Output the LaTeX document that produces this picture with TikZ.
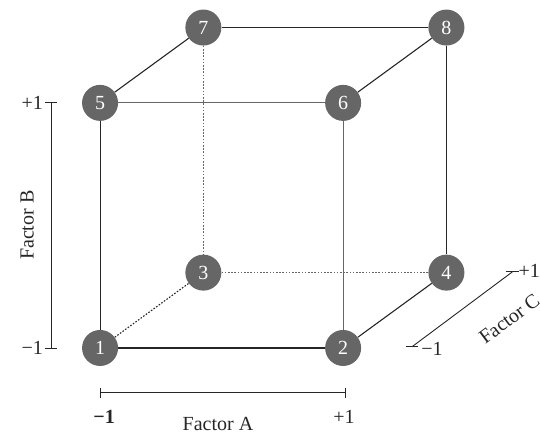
\documentclass[tikz,border=0pt]{standalone}
\usepackage{fontspec}
\setmainfont{Liberation Serif}
\usepackage{tikz}
\usetikzlibrary{arrows.meta,positioning,calc}

\definecolor{dotgray}{HTML}{666666}
\tikzset{
  corner/.style={circle, fill=dotgray, text=white, minimum size=36pt, inner sep=0pt,
    font=\fontsize{20}{22}\selectfont},
  edge/.style={line width=1.1pt, black!85},
  frontedge/.style={line width=1.1pt, dotgray},
  hidden/.style={line width=1.1pt, dotgray, dash pattern=on 1.6pt off 1.6pt},
  axis/.style={line width=0.9pt, black!85},
  axislabel/.style={font=\fontsize{20}{22}\selectfont, text=black!85, inner sep=1pt}
}

\begin{document}
\begin{tikzpicture}[x=40.5pt, y=40.5pt]
  % Bounding box
  \useasboundingbox (-2.47, -2.12) rectangle (10.86, 8.59);

  % Cube corners (front face, then back face)
  \node[corner] (c1) at (0, 0) {1};
  \node[corner] (c2) at (6, 0) {2};
  \node[corner] (c5) at (0, 6.05) {5};
  \node[corner] (c6) at (6, 6.05) {6};
  \node[corner] (c3) at (2.55, 1.86) {3};
  \node[corner] (c4) at (8.55, 1.86) {4};
  \node[corner] (c7) at (2.55, 7.91) {7};
  \node[corner] (c8) at (8.55, 7.91) {8};

  % Visible edges
  \draw[edge] (c1) -- (c2);
  \draw[edge] (c1) -- (c5);
  \draw[edge] (c5) -- (c7);
  \draw[edge] (c7) -- (c8);
  \draw[edge] (c8) -- (c6);
  \draw[edge] (c8) -- (c4);
  \draw[edge] (c4) -- (c2);
  \draw[frontedge] (c5) -- (c6);
  \draw[frontedge] (c6) -- (c2);

  % Hidden edges
  \draw[hidden] (c7) -- (c3);
  \draw[hidden] (c3) -- (c4);
  \draw[hidden, black!85] (c1) -- (c3);

  % Factor A axis
  \coordinate (aL) at (0, -1.11);
  \coordinate (aR) at (6.05, -1.11);
  \draw[axis] (aL) -- (aR);
  \draw[axis] ($(aL)+(0,-0.13)$) -- ($(aL)+(0,0.13)$);
  \draw[axis] ($(aR)+(0,-0.13)$) -- ($(aR)+(0,0.13)$);
  \node[axislabel, font=\fontsize{20}{22}\selectfont\bfseries] (aMin) at (0.1, -1.7) {−1};
  \node[axislabel] (aMax) at (6.02, -1.7) {+1};
  \node[axislabel] (aName) at (2.91, -1.87) {Factor A};

  % Factor B axis
  \coordinate (bB) at (-1.21, 0);
  \coordinate (bT) at (-1.21, 6.05);
  \draw[axis] (bB) -- (bT);
  \draw[axis] ($(bB)+(-0.14,0)$) -- ($(bB)+(0.14,0)$);
  \draw[axis] ($(bT)+(-0.14,0)$) -- ($(bT)+(0.14,0)$);
  \node[axislabel, anchor=east] (bMin) at (-1.38, 0) {−1};
  \node[axislabel, anchor=east] (bMax) at (-1.38, 6.05) {+1};
  \node[axislabel, rotate=90] (bName) at (-1.8, 3.03) {Factor B};

  % Factor C axis
  \coordinate (cB) at (7.7, 0.03);
  \coordinate (cT) at (10.18, 1.88);
  \draw[axis] (cB) -- (cT);
  \draw[axis] ($(cB)+(-0.16,0)$) -- ($(cB)+(0.16,0)$);
  \draw[axis] ($(cT)+(-0.16,0)$) -- ($(cT)+(0.16,0)$);
  \node[axislabel, anchor=west] (cMin) at (7.9, -0.02) {−1};
  \node[axislabel, anchor=west] (cMax) at (10.3, 1.9) {+1};
  \node[axislabel, rotate=36.7] (cName) at (10.1, 0.72) {Factor C};
\end{tikzpicture}
\end{document}
